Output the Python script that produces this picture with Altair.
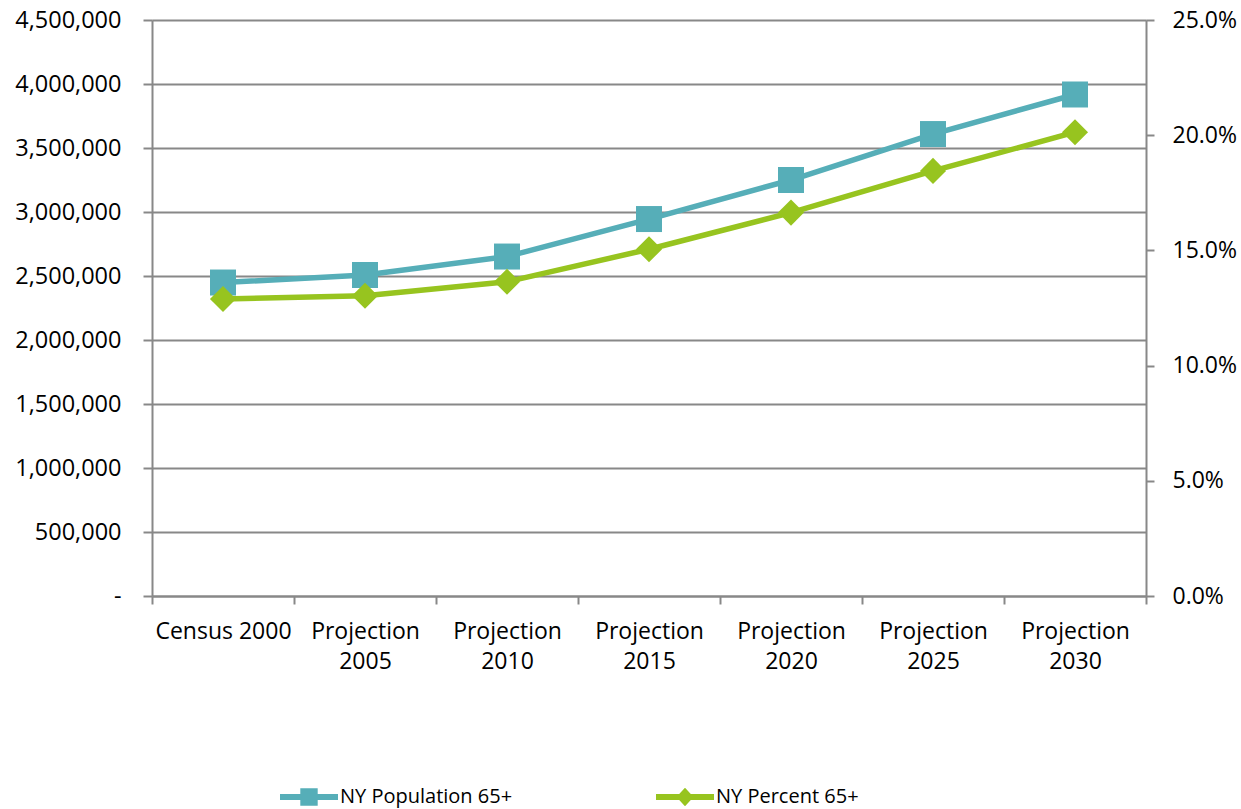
import altair as alt
import pandas as pd

categories = ["Census 2000", "Projection 2005", "Projection 2010", "Projection 2015",
              "Projection 2020", "Projection 2025", "Projection 2030"]
population = [2449000, 2508000, 2652000, 2945000, 3250000, 3609000, 3918000]
percent = [0.1289, 0.1303, 0.1364, 0.1505, 0.1664, 0.1845, 0.2013]
series_names = ["NY Population 65+", "NY Percent 65+"]
series_colors = ["#56AEB8", "#97C41F"]

FONT = "Open Sans"
GRAY = "#888888"

df = pd.DataFrame({"cat": categories, "pop": population, "pct": percent})
legend_df = pd.DataFrame({"cat": categories[:2], "series": series_names})

x_enc = alt.X(
    "cat:N", sort=categories, title=None,
    scale=alt.Scale(type="band", paddingInner=0, paddingOuter=0),
    axis=alt.Axis(
        tickBand="extent", labelAngle=0, labelFont=FONT, labelFontSize=23,
        labelColor="black", labelPadding=16, labelLineHeight=30,
        labelExpr="datum.label == 'Census 2000' ? datum.label : split(datum.label, ' ')",
        tickColor=GRAY, tickWidth=2, tickSize=8, domainColor=GRAY, domainWidth=2,
        grid=False, labelLimit=200,
    ),
)

y_pop = alt.Y(
    "pop:Q", title=None,
    scale=alt.Scale(domain=[0, 4500000], nice=False, zero=True),
    axis=alt.Axis(
        orient="left", values=list(range(0, 4500001, 500000)),
        labelExpr="datum.value == 0 ? '-\u00a0\u00a0' : format(datum.value, ',')",
        labelFont=FONT, labelFontSize=23.5, labelColor="black", labelPadding=22,
        tickColor=GRAY, tickWidth=2, tickSize=9, domainColor=GRAY, domainWidth=2,
        grid=True, gridColor=GRAY, gridWidth=2, gridOpacity=1,
    ),
)

y_pct = alt.Y(
    "pct:Q", title=None,
    scale=alt.Scale(domain=[0, 0.25], nice=False, zero=True),
    axis=alt.Axis(
        orient="right", values=[0, 0.05, 0.10, 0.15, 0.20, 0.25], format=".1%",
        labelFont=FONT, labelFontSize=23, labelColor="black", labelPadding=18,
        tickColor=GRAY, tickWidth=2, tickSize=8, domainColor=GRAY, domainWidth=2,
        grid=False,
    ),
)

base = alt.Chart(df)

pop_layer = alt.layer(
    base.mark_line(color=series_colors[0], strokeWidth=5.5).encode(x=x_enc, y=y_pop),
    base.mark_point(shape="square", filled=True, size=676, opacity=1,
                    color=series_colors[0]).encode(x=x_enc, y=y_pop),
)

pct_layer = alt.layer(
    base.mark_line(color=series_colors[1], strokeWidth=5.5).encode(x=x_enc, y=y_pct),
    base.mark_point(shape="diamond", filled=True, size=680, opacity=1,
                    color=series_colors[1]).encode(x=x_enc, y=y_pct),
)

sq_path = ("M-1,-0.1L-0.3,-0.1L-0.3,-0.3L0.3,-0.3L0.3,-0.1L1,-0.1L1,0.1"
           "L0.3,0.1L0.3,0.3L-0.3,0.3L-0.3,0.1L-1,0.1Z")
dm_path = ("M-1,-0.1L-0.2,-0.1L0,-0.32L0.2,-0.1L1,-0.1L1,0.1L0.2,0.1"
           "L0,0.32L-0.2,0.1L-1,0.1Z")

legend = alt.Legend(
    title=None, orient="none", direction="horizontal", legendX=128, legendY=172 + 576,
    labelFont=FONT, labelFontSize=20, labelColor="black", labelOffset=2,
    symbolSize=3364, symbolStrokeWidth=0, symbolOpacity=1, columnPadding=143,
    labelLimit=300,
)

legend_layer = alt.Chart(legend_df).mark_point(filled=True, opacity=0).encode(
    x=alt.X("cat:N", sort=categories),
    y=alt.value(300),
    color=alt.Color("series:N", scale=alt.Scale(domain=series_names, range=series_colors),
                    legend=legend),
    shape=alt.Shape("series:N", scale=alt.Scale(domain=series_names, range=[sq_path, dm_path]),
                    legend=legend),
)

chart = alt.layer(pop_layer, pct_layer, legend_layer).resolve_scale(
    y="independent"
).properties(
    width=994, height=576,
    autosize=alt.AutoSizeParams(type="none"),
    padding={"left": 152, "top": 20, "right": 95, "bottom": 213},
).configure_view(stroke=None).configure(background="white")

chart.save("out.html", embed_options={"renderer": "svg", "actions": False})
